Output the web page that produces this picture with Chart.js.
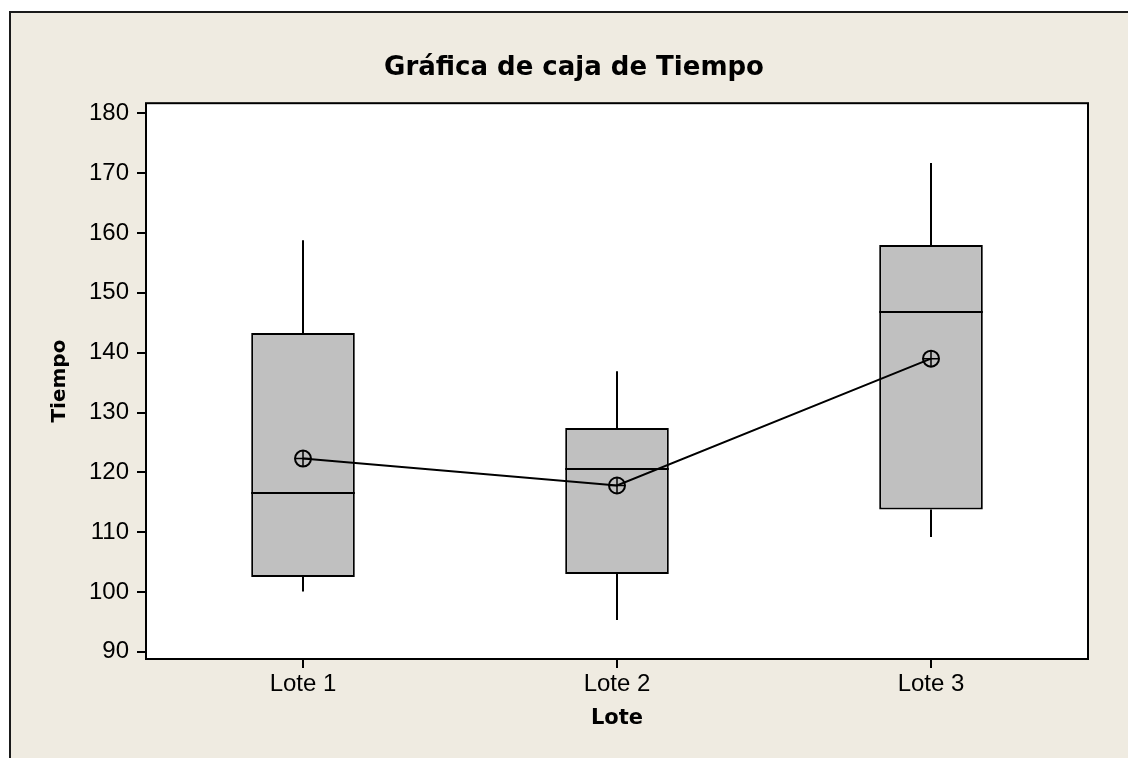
<!DOCTYPE html>
<html>
<head>
<meta charset="utf-8">
<script src="https://cdn.jsdelivr.net/npm/chart.js@4"></script>
<style>
    html, body { margin: 0; padding: 0; background: #ffffff; overflow: hidden; }
    #frame {
        position: absolute;
        left: 9px;
        top: 11px;
        width: 1200px;
        height: 800px;
        background: #efebe1;
        border-left: 2px solid #1a1a1a;
        border-top: 2px solid #1a1a1a;
    }
    #chart { position: absolute; left: 0; top: 0; }
</style>
</head>
<body>
<div id="frame"></div>
<canvas id="chart" width="1128" height="758"></canvas>
<script>
const lotes = ['Lote 1', 'Lote 2', 'Lote 3'];
const whiskerLow = [100.1, 95.3, 109.2];
const q1 = [102.5, 103.0, 113.8];
const median = [116.6, 120.5, 146.8];
const q3 = [143.3, 127.4, 158.0];
const whiskerHigh = [158.8, 136.9, 171.7];
const means = [122.3, 117.8, 139.0];
const yTicks = [90, 100, 110, 120, 130, 140, 150, 160, 170, 180];

const tickFont = { family: "'Liberation Sans', Arial, sans-serif", size: 24 };
const boldFont = { family: "'DejaVu Sans', Verdana, sans-serif", weight: 'bold' };

const boxPlot = {
    id: 'boxPlot',
    beforeDraw(chart) {
        const { ctx, chartArea: a } = chart;
        ctx.save();
        ctx.fillStyle = '#ffffff';
        ctx.fillRect(a.left, a.top, a.right - a.left, a.bottom - a.top);
        ctx.restore();
    },
    beforeDatasetsDraw(chart) {
        const { ctx, scales: { x, y } } = chart;
        ctx.save();
        ctx.strokeStyle = '#000';
        ctx.lineWidth = 2;
        lotes.forEach((_, i) => {
            const px = Math.round(x.getPixelForValue(i));
            ctx.beginPath();
            ctx.moveTo(px, y.getPixelForValue(whiskerLow[i]));
            ctx.lineTo(px, y.getPixelForValue(q1[i]));
            ctx.moveTo(px, y.getPixelForValue(q3[i]));
            ctx.lineTo(px, y.getPixelForValue(whiskerHigh[i]));
            ctx.stroke();
        });
        ctx.restore();
    },
    afterDatasetDraw(chart, args) {
        if (args.index !== 0) return;
        const { ctx, scales: { y } } = chart;
        const meta = chart.getDatasetMeta(0);
        ctx.save();
        ctx.strokeStyle = '#000';
        ctx.lineWidth = 2;
        meta.data.forEach((bar, i) => {
            const py = Math.round(y.getPixelForValue(median[i]));
            ctx.beginPath();
            ctx.moveTo(bar.x - bar.width / 2, py);
            ctx.lineTo(bar.x + bar.width / 2, py);
            ctx.stroke();
        });
        ctx.restore();
    },
    afterDraw(chart) {
        const { ctx, chartArea: a } = chart;
        ctx.save();
        ctx.strokeStyle = '#000';
        ctx.lineWidth = 2;
        ctx.strokeRect(a.left, a.top, a.right - a.left, a.bottom - a.top);
        ctx.restore();
    }
};

new Chart(document.getElementById('chart'), {
    type: 'bar',
    data: {
        labels: lotes,
        datasets: [
            {
                type: 'bar',
                data: q1.map((v, i) => [v, q3[i]]),
                backgroundColor: '#c0c0c0',
                borderColor: '#000',
                borderWidth: 2,
                borderSkipped: false,
                categoryPercentage: 1,
                barPercentage: 0.33,
                order: 2
            },
            {
                type: 'line',
                data: means,
                borderColor: '#000',
                borderWidth: 2,
                pointStyle: 'circle',
                pointRadius: 8,
                pointBorderWidth: 2,
                pointBorderColor: '#000',
                pointBackgroundColor: 'rgba(0,0,0,0)',
                tension: 0,
                order: 1
            },
            {
                type: 'line',
                data: means,
                showLine: false,
                pointStyle: 'cross',
                pointRadius: 8,
                pointBorderWidth: 1.5,
                pointBorderColor: '#000',
                order: 0
            }
        ]
    },
    options: {
        responsive: false,
        animation: false,
        devicePixelRatio: 1,
        layout: { padding: { left: 60, right: 40, top: 11, bottom: 0 } },
        plugins: {
            legend: { display: false },
            tooltip: { enabled: false },
            title: {
                display: true,
                text: 'Gráfica de caja de Tiempo',
                color: '#000',
                font: { ...boldFont, size: 26 },
                padding: { top: 42, bottom: 19 }
            }
        },
        scales: {
            x: {
                offset: true,
                border: { display: false },
                grid: { offset: false, drawOnChartArea: false, drawTicks: true, tickLength: 9, color: '#000', lineWidth: 2 },
                ticks: { color: '#000', font: tickFont, padding: 2, maxRotation: 0 },
                title: { display: true, text: 'Lote', color: '#000', font: { ...boldFont, size: 21 }, padding: { top: 4, bottom: 27 } },
                afterFit(scale) { scale.height = 99; }
            },
            y: {
                min: 88.8,
                max: 181.7,
                border: { display: false },
                grid: { drawOnChartArea: false, drawTicks: true, tickLength: 9, color: '#000', lineWidth: 2 },
                ticks: { stepSize: 10, includeBounds: false, color: '#000', font: tickFont, padding: 8,
                    callback: v => yTicks.includes(v) ? v : null },
                title: { display: true, text: 'Tiempo', color: '#000', font: { ...boldFont, size: 20 }, padding: { top: -12, bottom: 0 } },
                afterFit(scale) { scale.width = 86; }
            }
        }
    },
    plugins: [boxPlot]
});
</script>
</body>
</html>
